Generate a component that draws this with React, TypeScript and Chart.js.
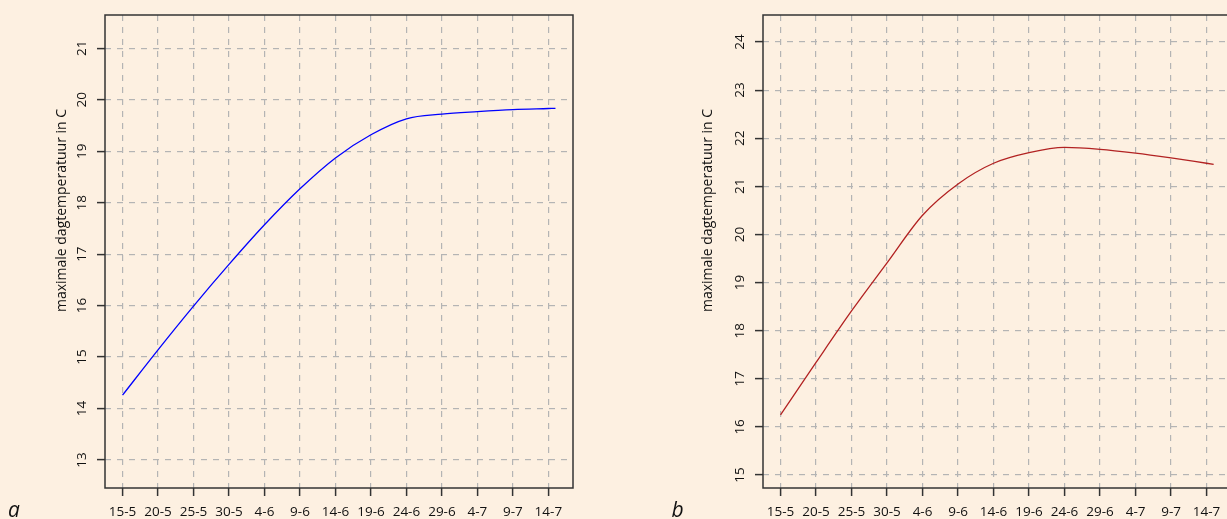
import React, { useEffect, useRef } from 'react';
import { Chart, registerables } from 'chart.js';

Chart.register(...registerables);

// ---- data ----
const tickDays = [0, 5, 10, 15, 20, 25, 30, 35, 40, 45, 50, 55, 60];
const tickLabels = ['15-5', '20-5', '25-5', '30-5', '4-6', '9-6', '14-6', '19-6', '24-6', '29-6', '4-7', '9-7', '14-7'];
const sampleDays = [0, 5, 10, 15, 20, 25, 30, 35, 40, 45, 50, 55, 60, 61];
const tempA = [14.26, 15.14, 15.99, 16.8, 17.57, 18.27, 18.87, 19.32, 19.63, 19.72, 19.77, 19.81, 19.83, 19.834];
const tempB = [16.25, 17.34, 18.41, 19.41, 20.4, 21.05, 21.48, 21.7, 21.81, 21.77, 21.69, 21.59, 21.48, 21.458];
const yTicksA = [13, 14, 15, 16, 17, 18, 19, 20, 21];
const yTicksB = [15, 16, 17, 18, 19, 20, 21, 22, 23, 24];
const yTitle = 'maximale dagtemperatuur in C';

const BG = '#fdf0e1';
const GRID = '#b4b4b4';
const INK = '#111111';
const FONT = '"Open Sans", "Noto Sans", sans-serif';

type PanelCfg = {
  letter: string;
  letterX: number;
  titleX: number;
  titleY: number;
  yTicks: number[];
  values: number[];
  color: string;
  yMin: number;
  yMax: number;
  padding: { left: number; right: number; top: number; bottom: number };
};

function makeChart(canvas: HTMLCanvasElement, cfg: PanelCfg) {
  const decor = {
    id: 'decor',
    afterDraw(chart: any) {
      const ctx = chart.ctx as CanvasRenderingContext2D;
      const { left, top, right, bottom } = chart.chartArea;
      ctx.save();
      // box
      ctx.strokeStyle = '#333';
      ctx.lineWidth = 1.5;
      ctx.strokeRect(left, top, right - left, bottom - top);
      // y tick labels (rotated)
      ctx.fillStyle = INK;
      ctx.font = `13.5px ${FONT}`;
      ctx.textAlign = 'center';
      ctx.textBaseline = 'alphabetic';
      const ys = chart.scales.y;
      for (const t of ys.ticks) {
        const py = ys.getPixelForValue(t.value);
        ctx.save();
        ctx.translate(left - 19.5, py);
        ctx.rotate(-Math.PI / 2);
        ctx.fillText(String(t.value), 0, 0);
        ctx.restore();
      }
      // y title
      ctx.save();
      ctx.font = `14px ${FONT}`;
      ctx.translate(cfg.titleX, cfg.titleY);
      ctx.rotate(-Math.PI / 2);
      ctx.fillText(yTitle, 0, 0);
      ctx.restore();
      // panel letter
      ctx.font = `italic 21px ${FONT}`;
      ctx.textAlign = 'left';
      ctx.fillText(cfg.letter, cfg.letterX, 516.7);
      ctx.restore();
    },
  };

  const gridOpts = {
    color: GRID,
    lineWidth: 1.2,
    drawTicks: true,
    tickLength: 8,
    tickColor: '#333',
    tickWidth: 1.5,
    tickBorderDash: [],
  };

  return new Chart(canvas, {
    type: 'line',
    data: {
      datasets: [
        {
          data: sampleDays.map((d, i) => ({ x: d, y: cfg.values[i] })),
          borderColor: cfg.color,
          borderWidth: 1.3,
          pointRadius: 0,
          fill: false,
          cubicInterpolationMode: 'monotone',
        },
      ],
    },
    options: {
      responsive: false,
      animation: false,
      devicePixelRatio: 1,
      layout: { padding: cfg.padding },
      plugins: { legend: { display: false }, tooltip: { enabled: false } },
      scales: {
        x: {
          type: 'linear',
          min: -2.47,
          max: 63.47,
          afterBuildTicks: (s: any) => {
            s.ticks = tickDays.map((v) => ({ value: v }));
          },
          ticks: {
            callback: (_v: any, i: number) => tickLabels[i] ?? '',
            font: { family: FONT, size: 13.5 },
            color: INK,
            padding: 8,
            maxRotation: 0,
            minRotation: 0,
            autoSkip: false,
          },
          grid: gridOpts,
          border: { display: false, dash: [6, 6] },
        },
        y: {
          type: 'linear',
          min: cfg.yMin,
          max: cfg.yMax,
          afterBuildTicks: (s: any) => {
            s.ticks = cfg.yTicks.map((v) => ({ value: v }));
          },
          ticks: { display: false },
          grid: gridOpts,
          border: { display: false, dash: [6, 6] },
        },
      },
    },
    plugins: [decor],
  } as any);
}

export default function App() {
  const refA = useRef<HTMLCanvasElement>(null);
  const refB = useRef<HTMLCanvasElement>(null);

  useEffect(() => {
    document.body.style.margin = '0';
    document.body.style.background = BG;
    const a = makeChart(refA.current!, {
      letter: 'a',
      letterX: 8,
      titleX: 65.5,
      titleY: 210.5,
      yTicks: yTicksA,
      values: tempA,
      color: '#0000ff',
      yMin: 12.456,
      yMax: 21.647,
      padding: { left: 97, right: 47, top: 15, bottom: 31.8 },
    });
    const b = makeChart(refB.current!, {
      letter: 'b',
      letterX: 51.5,
      titleX: 91.5,
      titleY: 210.5,
      yTicks: yTicksB,
      values: tempB,
      color: '#b22222',
      yMin: 14.73,
      yMax: 24.561,
      padding: { left: 135, right: 28.8, top: 15, bottom: 31.8 },
    });
    return () => {
      a.destroy();
      b.destroy();
    };
  }, []);

  return (
    <div
      style={{
        position: 'fixed',
        left: 0,
        top: 0,
        width: 1227,
        height: 519,
        overflow: 'hidden',
        background: BG,
      }}
    >
      <canvas ref={refA} width={620} height={560} style={{ position: 'absolute', left: 0, top: 0, width: 620, height: 560 }} />
      <canvas ref={refB} width={640} height={560} style={{ position: 'absolute', left: 620, top: 0, width: 640, height: 560 }} />
    </div>
  );
}
